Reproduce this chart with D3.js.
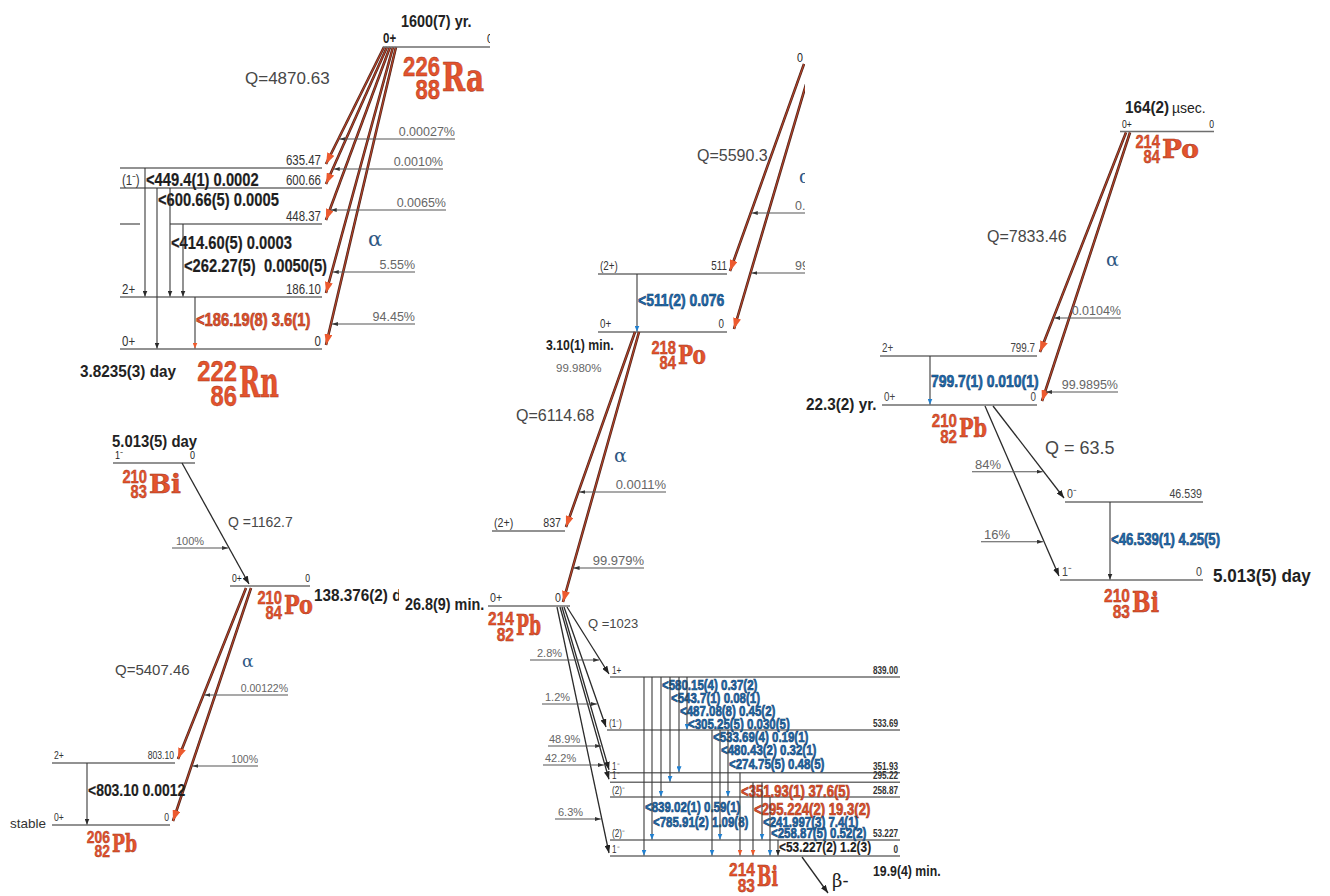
<!DOCTYPE html>
<html>
<head>
<meta charset="utf-8">
<script src="https://cdn.jsdelivr.net/npm/d3@7"></script>
<style>
  html, body { margin: 0; padding: 0; background: #fff; }
  svg { display: block; }
</style>
</head>
<body>
<svg id="chart" width="1330" height="896"></svg>
<script>
// ================= DATA =================
// 226Ra (alpha) -> 222Rn
const raHalfLife   = "1600(7) yr.";
const raQ          = "Q=4870.63";
const rnLevelE     = [635.47, 600.66, 448.37, 186.10, 0];
const rnLevelText  = ["635.47", "600.66", "448.37", "186.10", "0"];
const rnLevelSpin  = ["", "(1⁻)", "", "2+", "0+"];
const raAlphaFeed  = ["0.00027%", "0.0010%", "0.0065%", "5.55%", "94.45%"];
const rnGammaFrom  = [635.47, 600.66, 600.66, 448.37, 186.10];
const rnGammaTo    = [186.10, 0, 186.10, 186.10, 0];
const rnGammaLabel = ["<449.4(1) 0.0002", "<600.66(5) 0.0005", "<414.60(5) 0.0003", "<262.27(5)  0.0050(5)", "<186.19(8) 3.6(1)"];
const rnGammaTone  = ["k", "k", "k", "k", "r"];
const rnHalfLife   = "3.8235(3) day";

// 222Rn (alpha) -> 218Po
const rnQ           = "Q=5590.3";
const rnAlphaFeed   = ["0.078%", "99.920%"];
const po218LevelE   = [511, 0];
const po218LevelText = ["511", "0"];
const po218LevelSpin = ["(2+)", "0+"];
const po218GammaFrom = [511];
const po218GammaTo   = [0];
const po218GammaLabel = ["<511(2) 0.076"];
const po218GammaTone  = ["b"];
const po218HalfLife  = "3.10(1) min.";
const po218AlphaBranch = "99.980%";

// 218Po (alpha) -> 214Pb
const po218Q        = "Q=6114.68";
const pb214LevelE   = [837, 0];
const pb214LevelText = ["837", "0"];
const pb214LevelSpin = ["(2+)", "0+"];
const po218AlphaFeed = ["0.0011%", "99.979%"];
const pb214HalfLife  = "26.8(9) min.";

// 214Pb (beta-) -> 214Bi
const pb214Q         = "Q =1023";
const bi214LevelE    = [839.00, 533.69, 351.93, 295.22, 258.87, 53.227, 0];
const bi214LevelText = ["839.00", "533.69", "351.93", "295.22", "258.87", "53.227", "0"];
const bi214LevelSpin = ["1+", "(1⁻)", "1⁻", "1⁻", "(2)⁻", "(2)⁻", "1⁻"];
const pb214BetaTo    = [839.00, 533.69, 351.93, 295.22, 0];
const pb214BetaFeed  = ["2.8%", "1.2%", "48.9%", "42.2%", "6.3%"];
const bi214GammaFrom = [839.00, 839.00, 839.00, 839.00, 839.00, 839.00, 533.69, 533.69, 533.69, 351.93, 295.22, 295.22, 258.87, 53.227];
const bi214GammaTo   = [0, 53.227, 258.87, 295.22, 351.93, 533.69, 0, 53.227, 258.87, 0, 0, 53.227, 0, 0];
const bi214GammaLabel = ["<839.02(1) 0.59(1)", "<785.91(2) 1.09(8)", "<580.15(4) 0.37(2)", "<543.7(1) 0.08(1)",
  "<487.08(8) 0.45(2)", "<305.25(5) 0.030(5)", "<533.69(4) 0.19(1)", "<480.43(2) 0.32(1)", "<274.75(5) 0.48(5)",
  "<351.93(1) 37.6(5)", "<295.224(2) 19.3(2)", "<241.997(3) 7.4(1)", "<258.87(5) 0.52(2)", "<53.227(2) 1.2(3)"];
const bi214GammaTone = ["b", "b", "b", "b", "b", "b", "b", "b", "b", "r", "r", "b", "b", "k"];
const bi214HalfLife  = "19.9(4) min.";

// 214Po (alpha) -> 210Pb
const po214HalfLife  = "164(2)";
const po214Q         = "Q=7833.46";
const pb210LevelE    = [799.7, 0];
const pb210LevelText = ["799.7", "0"];
const pb210LevelSpin = ["2+", "0+"];
const po214AlphaFeed = ["0.0104%", "99.9895%"];
const pb210GammaFrom = [799.7];
const pb210GammaTo   = [0];
const pb210GammaLabel = ["799.7(1) 0.010(1)"];
const pb210GammaTone  = ["b"];
const pb210HalfLife  = "22.3(2) yr.";

// 210Pb (beta-) -> 210Bi
const pb210Q         = "Q = 63.5";
const bi210LevelE    = [46.539, 0];
const bi210LevelText = ["46.539", "0"];
const bi210LevelSpin = ["0⁻", "1⁻"];
const pb210BetaTo    = [46.539, 0];
const pb210BetaFeed  = ["84%", "16%"];
const bi210GammaFrom = [46.539];
const bi210GammaTo   = [0];
const bi210GammaLabel = ["<46.539(1) 4.25(5)"];
const bi210GammaTone  = ["k"];
const bi210HalfLife  = "5.013(5) day";

// 210Bi (beta-) -> 210Po (alpha) -> 206Pb
const bi210Q         = "Q =1162.7";
const bi210BetaFeed  = ["100%"];
const po210HalfLife  = "138.376(2) day";
const po210Q         = "Q=5407.46";
const pb206LevelE    = [803.10, 0];
const pb206LevelText = ["803.10", "0"];
const pb206LevelSpin = ["2+", "0+"];
const po210AlphaFeed = ["0.00122%", "100%"];
const pb206GammaFrom = [803.10];
const pb206GammaTo   = [0];
const pb206GammaLabel = ["<803.10 0.0012"];
const pb206GammaTone  = ["k"];

// ================= STYLE =================
const C = {
  level: "#6e6e6e", text: "#222", grey: "#666", q: "#474747",
  red: "#e4532d", redDark: "#9c3218", blue: "#1e6db4", blueDark: "#123e69",
  alphaOuter: "#4a2118", alphaInner: "#b8452a", alphaHead: "#ec5a2f", greek: "#2f5783"
};
// condensed labels: Liberation Sans squeezed horizontally
const NARROW = "narrow";
const SANS = '"Liberation Sans",Arial,sans-serif';
const SERIF = '"DejaVu Serif",serif';
const SQUEEZE = 0.82;
const toneFill   = { k: "#1e1e1e", b: C.blue, r: C.red };
const toneStroke = { k: "#1e1e1e", b: C.blueDark, r: C.redDark };

const svg = d3.select("#chart");
const defs = svg.append("defs");

function addMarker(id, color, len, wid) {
  defs.append("marker").attr("id", id)
    .attr("viewBox", `0 0 ${len} ${wid}`).attr("refX", len).attr("refY", wid / 2)
    .attr("markerWidth", len).attr("markerHeight", wid)
    .attr("markerUnits", "userSpaceOnUse").attr("orient", "auto")
    .append("path").attr("d", `M0,0L${len},${wid / 2}L0,${wid}Z`).attr("fill", color);
}
addMarker("ah-alpha", C.alphaHead, 11, 8);
addMarker("ah-k", "#2a2a2a", 6, 5);
addMarker("ah-b", "#2180d0", 6, 5);
addMarker("ah-r", "#ee5a2c", 6, 5);
addMarker("ah-feed", "#333", 6, 4);
addMarker("ah-beta", "#222", 8, 6);

function addClip(id, w) {
  defs.append("clipPath").attr("id", id).append("rect")
    .attr("x", 0).attr("y", 0).attr("width", w).attr("height", 896);
}
addClip("clip-ra", 490);
addClip("clip-rn", 805);
addClip("clip-po210", 399);

// ================= HELPERS =================
function txt(g, x, y, s, o = {}) {
  const narrow = !o.family || o.family === NARROW;
  const t = g.append("text").text(s)
    .attr("font-family", narrow ? SANS : o.family)
    .attr("font-size", o.size || 12)
    .attr("font-weight", o.bold ? "bold" : "normal")
    .attr("fill", o.fill || C.text)
    .attr("text-anchor", o.anchor || "start")
    .style("white-space", "pre");
  if (narrow) t.attr("x", 0).attr("y", 0).attr("transform", `translate(${x},${y}) scale(${o.squeeze || SQUEEZE},1)`);
  else t.attr("x", x).attr("y", y);
  if (o.stroke) t.attr("stroke", o.stroke).attr("stroke-width", o.sw || 0.4);
  return t;
}
// bold half-life captions, a little wider than the level labels
const halfLife = (g, x, y, s, size) => txt(g, x, y, s, { size, bold: true, squeeze: 0.9 });

function seg(g, x1, y1, x2, y2, color, w) {
  return g.append("line").attr("x1", x1).attr("y1", y1).attr("x2", x2).attr("y2", y2)
    .attr("stroke", color).attr("stroke-width", w);
}
function alpha(g, x0, y0, x1, y1) {
  seg(g, x0, y0, x1, y1, C.alphaOuter, 2.6);
  seg(g, x0, y0, x1, y1, C.alphaInner, 1.1).attr("marker-end", "url(#ah-alpha)");
  return [x0, y0, x1, y1];
}
function beta(g, x0, y0, x1, y1) {
  seg(g, x0, y0, x1, y1, "#2a2a2a", 1.3).attr("marker-end", "url(#ah-beta)");
  return [x0, y0, x1, y1];
}
// horizontal intensity arrow meeting a decay line at height y
function feed(g, line, y, xFar, label, o = {}) {
  const [x0, y0, x1, y1] = line;
  const xt = x0 + (y - y0) * (x1 - x0) / (y1 - y0);
  const fromRight = xFar > xt;
  seg(g, xFar, y, fromRight ? xt + 1 : xt - 1, y, "#555", 1.1).attr("marker-end", "url(#ah-feed)");
  if (label) txt(g, fromRight ? xFar : xFar + (o.inset || 3), y - 3, label,
    { size: o.size || 12, fill: C.grey, family: SANS, anchor: fromRight ? "end" : "start" });
}
function drawLevels(g, yS, E, labels, spins, o) {
  E.forEach((e, i) => {
    const y = yS(e);
    const x0 = Array.isArray(o.x0) ? o.x0[i] : o.x0;
    const x1 = Array.isArray(o.x1) ? o.x1[i] : o.x1;
    seg(g, x0, y, x1, y, C.level, o.lw || 1.5);
    const sx = o.spinX !== undefined ? o.spinX : x0;
    if (spins[i]) txt(g, sx + 2, y - o.dy, spins[i], { size: o.spinSize || o.size, bold: o.spinBold, fill: o.fill || "#333" });
    const inset = Array.isArray(o.inset) ? o.inset[i] : (o.inset || 1);
    txt(g, x1 - inset, y - o.dy, labels[i], { size: o.size, bold: o.bold, anchor: "end", fill: o.fill || "#333" });
  });
}
function drawGammas(g, yS, from, to, xs, labels, tones, lys, o) {
  from.forEach((f, i) => {
    const t = tones[i];
    seg(g, xs[i], yS(f), xs[i], yS(to[i]) - 0.5, "#3a3a3a", 1.1).attr("marker-end", `url(#ah-${o.heads ? o.heads[i] : t})`);
    const size = (o.toneSize && o.toneSize[t]) || o.size;
    txt(g, xs[i] + 1, lys[i], labels[i], { size, bold: true, fill: toneFill[t], stroke: toneStroke[t], sw: t === "k" ? 0.2 : 0.6 });
  });
}
function nuclide(g, x, y, A, Z, sym, s, w) {
  const o = { size: s, bold: true, fill: C.red, anchor: "end", stroke: C.redDark, sw: 0.4 };
  txt(g, x, y - 0.55 * s, A, o);
  txt(g, x, y + 0.3 * s, Z, o);
  txt(g, x + 2, y, sym, { size: 1.45 * s, bold: true, fill: C.red, family: SERIF, stroke: C.redDark, sw: 0.5 })
    .attr("textLength", w).attr("lengthAdjust", "spacingAndGlyphs");
}
const qText = (g, x, y, s, size) => txt(g, x, y, s, { family: SANS, size, fill: C.q });
const greek = (g, x, y, s, size) => txt(g, x, y, s, { family: SERIF, size, fill: C.greek });

// ================= 226Ra -> 222Rn =================
{
  const g = svg.append("g");
  const gc = svg.append("g").attr("clip-path", "url(#clip-ra)");
  const yRn = d3.scaleLinear().domain(rnLevelE).range([168, 188, 224, 297, 349]);
  const yRa = 47;
  seg(gc, 383, yRa, 495, yRa, C.level, 1.5);
  txt(gc, 487, yRa - 4, "0", { size: 13 });
  txt(g, 383, yRa - 4, "0+", { size: 14, bold: true });
  halfLife(g, 401, 27, raHalfLife, 16);
  nuclide(g, 440, 91, "226", "88", "Ra", 27, 42);
  qText(g, 245, 84, raQ, 17);
  greek(g, 368, 246, "α", 21);

  drawLevels(g, yRn, rnLevelE, rnLevelText, rnLevelSpin,
    { x0: [120, 120, 170, 120, 120], x1: 322, spinX: 120, dy: 3, size: 14 });
  seg(g, 120, yRn(448.37), 140, yRn(448.37), C.level, 1.5);

  const lines = rnLevelE.map((e, i) => alpha(g, 384 + 3 * i, yRa, 326, yRn(e) - 4));
  const feedY = [139, 169, 210, 272, 324];
  const feedX = [455, 443, 446, 415, 415];
  raAlphaFeed.forEach((f, i) => feed(g, lines[i], feedY[i], feedX[i], f, { size: 12.5 }));

  drawGammas(g, yRn, rnGammaFrom, rnGammaTo, [145, 157, 170, 183, 195], rnGammaLabel, rnGammaTone,
    [186, 206, 249, 272, 326], { size: 18 });
  halfLife(g, 80, 377, rnHalfLife, 17);
  nuclide(g, 237, 397, "222", "86", "Rn", 29, 40);
}

// ================= 222Rn -> 218Po =================
{
  const g = svg.append("g");
  const gc = svg.append("g").attr("clip-path", "url(#clip-rn)");
  const yPo = d3.scaleLinear().domain(po218LevelE).range([274, 332]);
  txt(gc, 797, 62, "0", { size: 13 });
  txt(gc, 799, 183, "α", { family: SERIF, size: 18, fill: C.greek });
  const lines = po218LevelE.map((e, i) => alpha(gc, 804 + 8 * i, 64, 730 + 4 * i, yPo(e) - 3));
  [213, 273].forEach((y, i) => feed(gc, lines[i], y, 830, "", {}));
  rnAlphaFeed.forEach((f, i) => txt(gc, 795, [210, 270][i], f, { family: SANS, size: 12.5, fill: C.grey }));
  qText(g, 697, 161, rnQ, 16);

  drawLevels(g, yPo, po218LevelE, po218LevelText, po218LevelSpin, { x0: 598, x1: 727, dy: 4, size: 12, inset: [0, 3] });
  drawGammas(g, yPo, po218GammaFrom, po218GammaTo, [637], po218GammaLabel, po218GammaTone, [306], { size: 17 });
  txt(g, 546, 350, po218HalfLife, { size: 15, bold: true });
  txt(g, 556, 372, po218AlphaBranch, { family: SANS, size: 11.5, fill: C.grey });
  nuclide(g, 676, 364, "218", "84", "Po", 18, 28);
}

// ================= 218Po -> 214Pb -> 214Bi =================
{
  const g = svg.append("g");
  const yPb = d3.scaleLinear().domain(pb214LevelE).range([531, 606]);
  const yPo = 332;
  const lines = pb214LevelE.map((e, i) => alpha(g, 635 + 4 * i, yPo, 566 - 3 * i, yPb(e) - 4));
  po218AlphaFeed.forEach((f, i) => feed(g, lines[i], [492, 568][i], [666, 644][i], f, { size: 13 }));
  qText(g, 516, 421, po218Q, 16);
  greek(g, 614, 462, "α", 19);

  drawLevels(g, yPb, pb214LevelE, pb214LevelText, pb214LevelSpin,
    { x0: [492, 488], x1: [565, 570], dy: 4, size: 13, inset: [4, 9] });
  halfLife(g, 405, 610, pb214HalfLife, 16);
  nuclide(g, 514, 635, "214", "82", "Pb", 19, 25);

  // 214Bi levels
  const yBi = d3.scaleLinear().domain(bi214LevelE).range([677, 730, 772.7, 782.3, 797, 840, 856]);
  const biX0 = [610, 607, 610, 610, 610, 610, 610];
  drawLevels(g, yBi, bi214LevelE, bi214LevelText, bi214LevelSpin,
    { x0: biX0, x1: 900, dy: 3, size: 10, bold: true, spinBold: false, inset: 2 });

  // beta fan
  const starts = [567, 564, 562, 560, 557];
  const bLines = pb214BetaTo.map((e, i) => beta(g, starts[i], 607, biX0[bi214LevelE.indexOf(e)] - 1, yBi(e) - 3));
  const fY = [660, 704, 746, 765, 819];
  const fX = [530, 542, 548, 543, 555];
  const fIn = [7, 0, 1, 2, 0];
  pb214BetaFeed.forEach((f, i) => feed(g, bLines[i], fY[i], fX[i], f, { size: 11, inset: fIn[i] }));
  qText(g, 588, 628, pb214Q, 13);

  drawGammas(g, yBi, bi214GammaFrom, bi214GammaTo,
    [644, 652, 661, 670, 679, 687, 712, 720, 728, 740, 753, 762, 770, 778],
    bi214GammaLabel, bi214GammaTone,
    [812, 827, 690, 703, 716, 729, 742, 755, 769, 797, 815, 827, 838, 852],
    { size: 14, toneSize: { r: 16, k: 14.5 } });

  txt(g, 873, 876, bi214HalfLife, { size: 15, bold: true });
  beta(g, 802, 857, 828, 893);
  txt(g, 832, 887, "β-", { family: SERIF, size: 18, fill: "#222" });
  nuclide(g, 755, 886, "214", "83", "Bi", 19, 21);
}

// ================= 214Po -> 210Pb -> 210Bi =================
{
  const g = svg.append("g");
  const yPo = 131.5;
  seg(g, 1120, yPo, 1214, yPo, C.level, 1.5);
  txt(g, 1122, yPo - 4, "0+", { size: 10.5 });
  txt(g, 1214, yPo - 4, "0", { size: 10.5, anchor: "end" });
  halfLife(g, 1125, 113, po214HalfLife, 17);
  txt(g, 1172, 113, "µsec.", { family: SANS, size: 14, fill: "#222" });
  nuclide(g, 1160, 158, "214", "84", "Po", 18, 37);
  qText(g, 987, 242, po214Q, 16);
  greek(g, 1106, 266, "α", 19);

  const yPb = d3.scaleLinear().domain(pb210LevelE).range([356, 405]);
  drawLevels(g, yPb, pb210LevelE, pb210LevelText, pb210LevelSpin,
    { x0: [880, 882], x1: 1037, dy: 4, size: 12, inset: [2, 1], fill: "#444" });
  const lines = pb210LevelE.map((e, i) => alpha(g, 1126 + 4 * i, yPo + 1, 1040 + 2 * i, yPb(e) - 4));
  po214AlphaFeed.forEach((f, i) => feed(g, lines[i], [318, 392][i], [1121, 1118][i], f, { size: 12.5 }));
  drawGammas(g, yPb, pb210GammaFrom, pb210GammaTo, [930], pb210GammaLabel, pb210GammaTone, [387], { size: 17 });
  halfLife(g, 806, 410, pb210HalfLife, 17);
  nuclide(g, 957, 437, "210", "82", "Pb", 18.5, 28);

  // 210Bi
  const yBi = d3.scaleLinear().domain(bi210LevelE).range([502, 580]);
  const bx0 = [1065, 1060];
  drawLevels(g, yBi, bi210LevelE, bi210LevelText, bi210LevelSpin,
    { x0: bx0, x1: 1203, dy: 4, size: 13, fill: "#444" });
  const bStart = [993, 985];
  const bLines = pb210BetaTo.map((e, i) => beta(g, bStart[i], 406, bx0[i] - 1, yBi(e) - 4));
  pb210BetaFeed.forEach((f, i) => feed(g, bLines[i], [471.7, 541.7][i], [972, 981][i], f, { size: 13 }));
  qText(g, 1045, 454, pb210Q, 18);
  drawGammas(g, yBi, bi210GammaFrom, bi210GammaTo, [1110], bi210GammaLabel, ["b"], [545], { size: 16, heads: bi210GammaTone });
  halfLife(g, 1213, 582, bi210HalfLife, 19);
  nuclide(g, 1130, 612, "210", "83", "Bi", 19, 27);
}

// ================= 210Bi -> 210Po -> 206Pb =================
{
  const g = svg.append("g");
  const yBi = 463;
  seg(g, 113, yBi, 195, yBi, C.level, 1.5);
  txt(g, 115, yBi - 4, "1⁻", { size: 11 });
  txt(g, 195, yBi - 4, "0", { size: 11, anchor: "end" });
  halfLife(g, 112, 447, bi210HalfLife, 16.5);
  nuclide(g, 147, 493, "210", "83", "Bi", 18, 32);

  const yPo = 586;
  const bLine = beta(g, 182, yBi, 249, yPo - 2);
  bi210BetaFeed.forEach(f => feed(g, bLine, 548, 172, f, { size: 11, inset: 4 }));
  qText(g, 228, 527, bi210Q, 14);

  seg(g, 230, yPo, 310, yPo, C.level, 1.5);
  txt(g, 232, yPo - 4, "0+", { size: 10.5 });
  txt(g, 310, yPo - 4, "0", { size: 10.5, anchor: "end" });
  halfLife(svg.append("g").attr("clip-path", "url(#clip-po210)"), 314, 601, po210HalfLife, 17);
  nuclide(g, 282, 614, "210", "84", "Po", 18, 29);

  const yPb = d3.scaleLinear().domain(pb206LevelE).range([763, 825]);
  const px1 = [175, 170];
  drawLevels(g, yPb, pb206LevelE, pb206LevelText, pb206LevelSpin,
    { x0: 52, x1: px1, dy: 4, size: 10.5, inset: 1 });
  const lines = pb206LevelE.map((e, i) => alpha(g, 246 + 5 * i, yPo + 2, px1[i] + 3, yPb(e) - 4));
  po210AlphaFeed.forEach((f, i) => feed(g, lines[i], [695, 766][i], [288, 258][i], f, { size: 10.5 }));
  qText(g, 115, 675, po210Q, 15);
  greek(g, 242, 667, "α", 17);
  drawGammas(g, yPb, pb206GammaFrom, pb206GammaTo, [87], pb206GammaLabel, pb206GammaTone, [796], { size: 17 });
  txt(g, 10, 828, "stable", { family: SANS, size: 13.5, fill: "#333" });
  nuclide(g, 110, 852, "206", "82", "Pb", 17, 25);
}
</script>
</body>
</html>
